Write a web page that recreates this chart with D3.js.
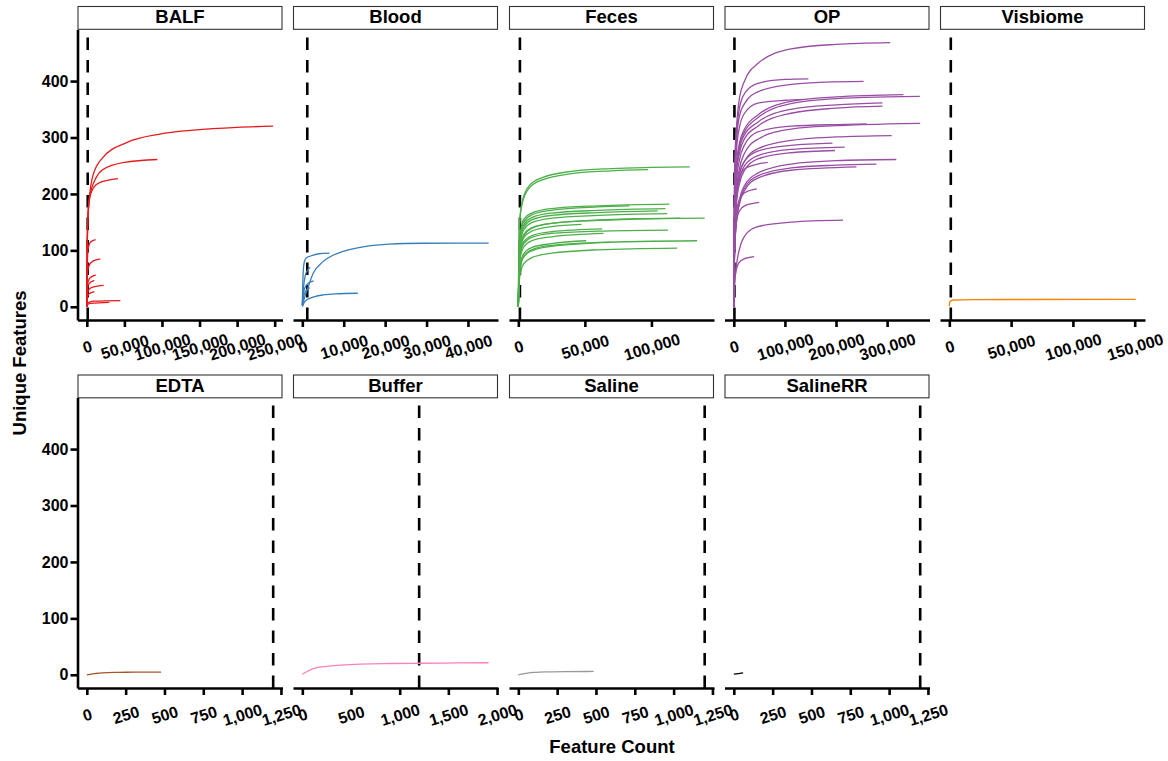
<!DOCTYPE html>
<html><head><meta charset="utf-8">
<script src="https://cdn.jsdelivr.net/npm/d3@7/dist/d3.min.js"></script>
<style>
html,body{margin:0;padding:0;background:#fff;}
svg{display:block;font-family:"Liberation Sans",Arial,Helvetica,sans-serif;}
</style></head>
<body>
<svg id="chart" width="1168" height="761"></svg>
<script>
// ---------------- DATA ----------------
const groups = ["BALF","Blood","Feces","OP","Visbiome","EDTA","Buffer","Saline","SalineRR"];
const groupColors = ["#E41A1C","#377EB8","#4DAF4A","#984EA3","#FF7F00","#A65628","#F781BF","#999999","#000000"];
const rarefactionDepth = 1200;
const yTickValues = [0,100,200,300,400];

const balfTicks = [0,50000,100000,150000,200000,250000];
const bloodTicks = [0,10000,20000,30000,40000];
const fecesTicks = [0,50000,100000];
const opTicks = [0,100000,200000,300000];
const visbiomeTicks = [0,50000,100000,150000];
const edtaTicks = [0,250,500,750,1000,1250];
const bufferTicks = [0,500,1000,1500,2000];
const salineTicks = [0,250,500,750,1000,1250];
const salineRRTicks = [0,250,500,750,1000,1250];

// each curve: [sequencing depth, unique features]
const balfCurves = [
  [[0,0],[500,100],[1000,140],[2000,172],[3500,195],[8000,232],[21000,264],[53000,291],[97000,306],[142000,313],[200000,318],[248000,320]],
  [[0,0],[500,100],[1000,140],[2000,172],[3500,193],[6000,208],[12000,228],[21000,243],[50000,256],[94000,261]],
  [[0,0],[500,100],[1000,140],[2000,170],[3500,190],[6000,203],[10000,213],[17000,220],[41500,227]],
  [[0,0],[500,70],[1000,90],[2000,105],[5000,115],[11700,119]],
  [[0,0],[500,45],[1000,60],[3000,73],[8000,81],[18000,85]],
  [[0,0],[500,30],[1000,40],[3000,49],[6000,53],[12000,56]],
  [[0,0],[500,25],[1000,33],[3000,41],[10000,47]],
  [[0,0],[500,18],[1000,24],[3000,31],[8000,35],[22400,38]],
  [[0,0],[500,14],[1000,18],[3000,23],[10000,27]],
  [[0,0],[500,4],[1000,6],[3000,8],[10000,10],[44700,11]],
  [[0,0],[1000,4],[5000,6],[30000,8]]
];
const bloodCurves = [
  [[0,3],[700,20],[1400,35],[2600,59],[5000,80],[9000,96],[13000,104],[21000,111],[29000,112.6],[45000,113]],
  [[0,5],[200,60],[500,80],[1000,87],[2000,90],[4000,94],[6570,95]],
  [[0,0],[500,8],[1000,12],[1850,15],[3000,18],[5000,21],[8000,23],[13400,24]],
  [[0,3],[300,35],[700,55],[1200,64],[1920,70]],
  [[0,3],[300,25],[700,35],[1500,42],[2740,46]],
  [[0,2],[300,18],[700,26],[1200,31],[1770,34]]
];
const fecesCurves = [
  [[0,0],[300,80],[1000,151],[3000,187],[8000,214],[18000,229],[40000,240],[70000,245],[100000,247],[128800,248]],
  [[0,0],[300,80],[1000,148],[3000,184],[8000,210],[18000,225],[40000,236],[70000,241],[97500,243]],
  [[0,0],[500,85],[1500,130],[4000,155],[10000,166],[25000,174],[60000,179],[113500,182]],
  [[0,0],[500,80],[1500,125],[4000,150],[10000,163],[25000,171],[60000,177],[83500,179]],
  [[0,0],[500,78],[1500,122],[4000,145],[10000,158],[25000,166],[60000,171],[110500,174]],
  [[0,0],[500,75],[1500,118],[4000,141],[10000,154],[25000,162],[60000,167],[104800,170]],
  [[0,0],[500,72],[1500,113],[4000,136],[10000,149],[25000,157],[60000,162],[111800,165]],
  [[0,0],[500,68],[1500,106],[4000,128],[10000,140],[25000,148],[60000,153],[100000,156],[140000,157]],
  [[0,0],[500,66],[1500,104],[4000,126],[10000,139],[25000,148],[60000,154],[121800,157]],
  [[0,0],[500,64],[1500,100],[4000,122],[10000,134],[25000,142],[47500,146]],
  [[0,0],[500,58],[1500,92],[4000,112],[10000,123],[25000,130],[60000,134],[112500,136]],
  [[0,0],[500,60],[1500,95],[4000,115],[10000,126],[25000,133],[63000,138]],
  [[0,0],[500,55],[1500,87],[4000,106],[10000,117],[25000,124],[64000,130]],
  [[0,0],[500,48],[1500,76],[4000,94],[10000,105],[25000,112],[51000,117]],
  [[0,0],[500,45],[1500,72],[4000,90],[10000,101],[25000,109],[60000,114],[134300,117]],
  [[0,0],[500,44],[1500,70],[4000,88],[10000,99],[25000,107],[69800,114]],
  [[0,0],[500,38],[1500,60],[4000,76],[10000,87],[25000,95],[60000,101],[119300,104]]
];
const opCurves = [
  [[0,0],[500,150],[2000,260],[5000,314],[11000,370],[21000,400],[47000,431],[112000,457],[200000,465],[306000,468]],
  [[0,0],[500,110],[2000,220],[5000,300],[11000,352],[21000,378],[47000,396],[100000,403],[146000,404]],
  [[0,0],[500,110],[2000,215],[5000,290],[11000,338],[21000,360],[47000,381],[112000,394],[180000,398],[254000,399.5]],
  [[0,0],[500,100],[2000,200],[5000,275],[11000,318],[21000,343],[47000,361],[100000,366],[136000,367.5]],
  [[0,0],[500,95],[2000,185],[5000,250],[11000,290],[21000,315],[47000,340],[112000,364],[200000,372],[332000,376]],
  [[0,0],[500,90],[2000,180],[5000,245],[11000,285],[21000,310],[47000,335],[112000,360],[200000,369],[300000,372],[364000,373]],
  [[0,0],[500,90],[2000,175],[5000,240],[11000,280],[21000,305],[47000,327],[112000,350],[200000,358],[291000,361.5]],
  [[0,0],[500,88],[2000,170],[5000,235],[11000,272],[21000,298],[47000,320],[112000,343],[200000,352],[291000,355.5]],
  [[0,0],[500,80],[2000,160],[5000,220],[11000,260],[21000,287],[47000,310],[112000,320],[200000,323],[260000,324]],
  [[0,0],[500,75],[2000,150],[5000,205],[11000,245],[21000,272],[47000,297],[112000,315],[200000,321],[300000,324],[364700,325]],
  [[0,0],[500,70],[2000,140],[5000,195],[11000,235],[21000,258],[47000,280],[112000,295],[200000,301],[309000,303.5]],
  [[0,0],[500,70],[2000,140],[5000,195],[11000,235],[21000,258],[47000,276],[112000,286],[193000,290]],
  [[0,0],[500,68],[2000,135],[5000,188],[11000,225],[21000,250],[47000,268],[112000,279],[217000,283]],
  [[0,0],[500,66],[2000,130],[5000,182],[11000,218],[21000,242],[47000,262],[112000,273],[198000,277]],
  [[0,0],[500,70],[2000,140],[5000,195],[11000,228],[21000,244],[47000,253],[66400,256]],
  [[0,0],[500,55],[2000,110],[5000,155],[11000,190],[21000,215],[47000,237],[112000,253],[200000,259],[318000,261]],
  [[0,0],[500,55],[2000,108],[5000,152],[11000,186],[21000,210],[47000,232],[112000,246],[200000,251],[279000,253]],
  [[0,0],[500,52],[2000,105],[5000,148],[11000,182],[21000,206],[47000,228],[112000,242],[240000,248]],
  [[0,0],[500,60],[2000,120],[5000,165],[11000,190],[21000,202],[45000,209]],
  [[0,0],[500,55],[2000,110],[5000,150],[11000,170],[21000,179],[49600,185]],
  [[0,0],[1000,30],[4000,65],[7800,89],[14500,113],[25000,130],[47000,142],[112000,150],[213700,153.5]],
  [[0,0],[1000,35],[4600,65],[10000,78],[20000,85],[39800,89]]
];
const visbiomeCurves = [
  [[0,1],[300,8],[1500,11],[3300,12],[20000,12.8],[150800,13.2]]
];
const edtaCurves = [
  [[0,0],[50,2],[100,3.5],[200,4.3],[300,4.6],[478,4.8]]
];
const bufferCurves = [
  [[0,1],[113,11],[250,15],[388,17],[600,19],[902,20],[1200,20.5],[1588,21],[1914,21.4]]
];
const salineCurves = [
  [[0,0],[50,2.5],[100,4.2],[200,5.3],[300,5.7],[485,5.9]]
];
const salineRRCurves = [
  [[0,1],[30,2.2],[60,3.4]]
];

const curvesByGroup = [balfCurves,bloodCurves,fecesCurves,opCurves,visbiomeCurves,edtaCurves,bufferCurves,salineCurves,salineRRCurves];
const ticksByGroup = [balfTicks,bloodTicks,fecesTicks,opTicks,visbiomeTicks,edtaTicks,bufferTicks,salineTicks,salineRRTicks];

// ---------------- LAYOUT ----------------
const panelLefts = [77.5, 293, 509, 724.5, 940];
const panelW = 205;
const panelH = 290.5;
const rowTops = [29.5, 397.5];
const stripTops = [6.5, 375];
const stripH = 22.8;
const labelAngle = -17;

const svg = d3.select("#chart");

const allY = curvesByGroup.flat(2).map(p => p[1]);
const yMax = d3.max(allY), yMin = Math.min(0, d3.min(allY));
const yPad = (yMax - yMin) * 0.05;

const fmt = d3.format(",");

groups.forEach((g, i) => {
  const row = i < 5 ? 0 : 1;
  const col = i < 5 ? i : i - 5;
  const x0 = panelLefts[col], y0 = rowTops[row];
  const curves = curvesByGroup[i];
  const xs = curves.flat().map(p => p[0]).concat([rarefactionDepth]);
  const xMin = d3.min(xs), xMax = d3.max(xs);
  const xPad = (xMax - xMin) * 0.05;
  const x = d3.scaleLinear().domain([xMin - xPad, xMax + xPad]).range([x0, x0 + panelW]);
  const y = d3.scaleLinear().domain([yMin - yPad, yMax + yPad]).range([y0 + panelH, y0]);

  // strip
  const st = stripTops[row];
  svg.append("rect").attr("x", x0 + 0.5).attr("y", st).attr("width", panelW - 1).attr("height", stripH)
    .attr("fill", "#fff").attr("stroke", "#333").attr("stroke-width", 1.1);
  svg.append("text").attr("x", x0 + panelW / 2).attr("y", st + 16.5)
    .attr("text-anchor", "middle").attr("font-size", 18.5).attr("font-weight", "bold").attr("fill", "#000").text(g);

  // vline
  svg.append("line").attr("x1", x(rarefactionDepth)).attr("x2", x(rarefactionDepth))
    .attr("y1", y0 + panelH).attr("y2", y0)
    .attr("stroke", "#000").attr("stroke-width", 2.6).attr("stroke-dasharray", "12.5,10");

  // curves
  const line = d3.line().x(d => x(d[0])).y(d => y(d[1])).curve(d3.curveMonotoneX);
  svg.append("g").selectAll("path").data(curves).join("path")
    .attr("d", line).attr("fill", "none").attr("stroke", groupColors[i]).attr("stroke-width", 1.3);

  // x axis
  const xa = svg.append("g").attr("transform", `translate(0,${y0 + panelH})`)
    .call(d3.axisBottom(x).tickValues(ticksByGroup[i]).tickFormat(fmt).tickSize(7).tickSizeOuter(0));
  xa.select(".domain").attr("stroke", "#000").attr("stroke-width", 2.6);
  xa.selectAll(".tick line").attr("stroke", "#000").attr("stroke-width", 2.6);
  xa.selectAll(".tick text").attr("y", 0).attr("dy", null)
    .attr("transform", `translate(0,27) rotate(${labelAngle})`)
    .attr("dominant-baseline", "central").attr("text-anchor", "middle")
    .attr("font-size", 16).attr("font-weight", "bold").attr("fill", "#000")
    .attr("font-family", "Liberation Sans, Arial, sans-serif");

  // y axis on first column
  if (col === 0) {
    const ya = svg.append("g").attr("transform", `translate(${x0},0)`)
      .call(d3.axisLeft(y).tickValues(yTickValues).tickSize(7).tickPadding(2).tickSizeOuter(0));
    ya.select(".domain").attr("stroke", "#000").attr("stroke-width", 2.6);
    ya.selectAll(".tick line").attr("stroke", "#000").attr("stroke-width", 2.6);
    ya.selectAll(".tick text").attr("font-size", 16).attr("font-weight", "bold").attr("fill", "#000")
      .attr("font-family", "Liberation Sans, Arial, sans-serif");
  }
});

// axis titles
svg.append("text").attr("x", 612).attr("y", 753).attr("text-anchor", "middle")
  .attr("font-size", 18.5).attr("font-weight", "bold").text("Feature Count");
svg.append("text").attr("transform", "translate(26,363) rotate(-90)").attr("text-anchor", "middle")
  .attr("font-size", 18.5).attr("font-weight", "bold").text("Unique Features");
</script>
</body></html>
